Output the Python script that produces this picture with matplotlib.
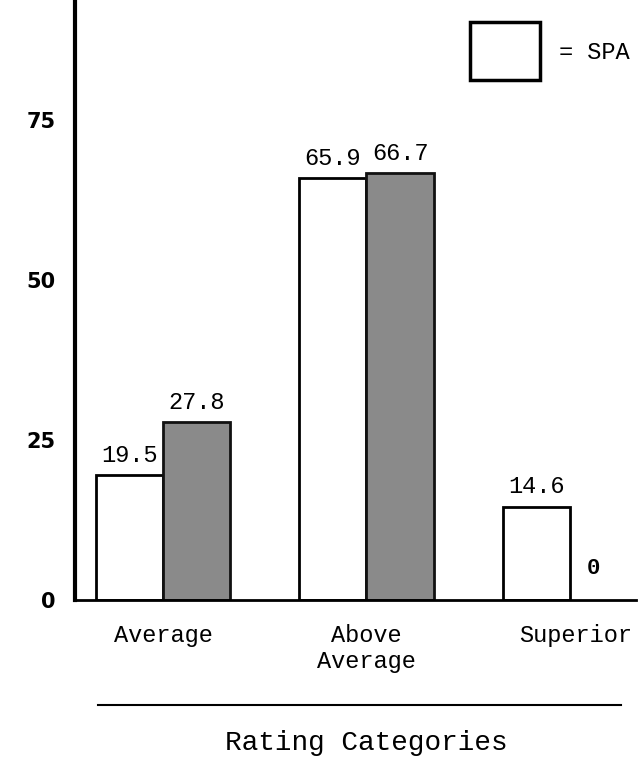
import matplotlib
matplotlib.use("Agg")
import matplotlib.pyplot as plt
from matplotlib.patches import Rectangle
import numpy as np

# rating categories and percentages
categories = ["Average", "Above\nAverage", "Superior"]
spa = [19.5, 65.9, 14.6]
other = [27.8, 66.7, 0]
yticks = [0, 25, 50, 75]

mono = "Liberation Mono"

fig = plt.figure(figsize=(6.4, 7.58), dpi=100)
ax = fig.add_axes([75 / 640, 158 / 758, 561 / 640, 600 / 758])

x = np.arange(len(categories))
w = 0.33
ax.bar(x - w / 2, spa, w, facecolor="white", edgecolor="black", linewidth=2)
bars2 = ax.bar(x + w / 2, other, w, facecolor="#8a8a8a", edgecolor="#111111", linewidth=2)
bars2[2].set_visible(False)

for i, v in enumerate(spa):
    ax.text(x[i] - w / 2, v + 1.3, f"{v}", ha="center", va="bottom", fontsize=17, family=mono)
for i, v in enumerate(other):
    if v > 0:
        ax.text(x[i] + w / 2, v + 1.3, f"{v}", ha="center", va="bottom", fontsize=17, family=mono)
    else:
        ax.text(x[i] + w / 2 - 0.05, 5, "0", ha="center", va="center", fontsize=16,
                family=mono, fontweight="bold")

ax.set_xlim(-0.433, 2.325)
ax.set_ylim(0, 93.75)
ax.set_yticks(yticks)
ax.set_yticklabels([str(t) for t in yticks], fontsize=15, fontweight="bold")
ax.tick_params(axis="y", length=0, pad=14)
ax.set_xticks([])
for s in ["top", "right"]:
    ax.spines[s].set_visible(False)
ax.spines["left"].set_linewidth(3)
ax.spines["bottom"].set_linewidth(2)

# category labels
tr = ax.get_xaxis_transform()
ax.text(x[0], -0.04, categories[0], ha="center", va="top", fontsize=17, family=mono, transform=tr)
ax.text(x[1], -0.04, categories[1], ha="center", va="top", fontsize=17, family=mono,
        transform=tr, linespacing=1.15)
ax.text(x[2] + 0.03, -0.04, categories[2], ha="center", va="top", fontsize=17, family=mono, transform=tr)
ax.plot([-0.32, 2.25], [-0.175, -0.175], color="black", lw=1.5, transform=tr, clip_on=False)
ax.text(x[1], -0.217, "Rating Categories", ha="center", va="top", fontsize=20, family=mono, transform=tr)

# legend key
ax.add_patch(Rectangle((0.704, 0.867), 0.125, 0.096, transform=ax.transAxes, facecolor="white",
                       edgecolor="black", lw=2.5, clip_on=False))
ax.text(0.862, 0.913, "= SPA", ha="left", va="center", fontsize=17, family=mono, transform=ax.transAxes)

fig.savefig("out.png", dpi=100)
